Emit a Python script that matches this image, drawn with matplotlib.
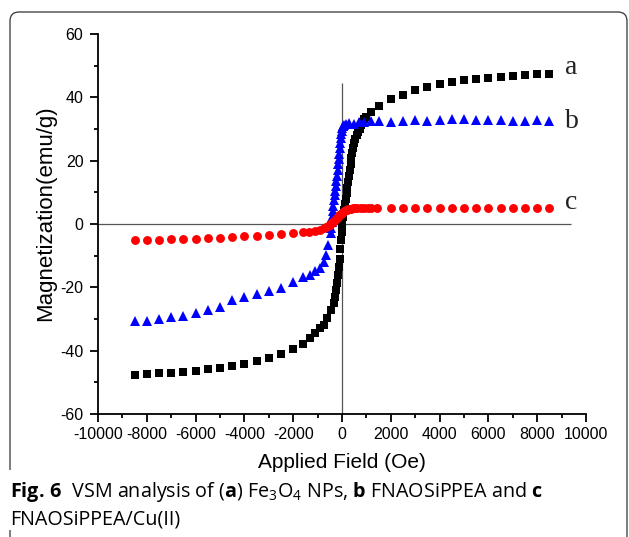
import matplotlib
matplotlib.use('Agg')
import matplotlib.pyplot as plt
from matplotlib.patches import FancyBboxPatch, Rectangle
from matplotlib.transforms import IdentityTransform
from matplotlib.ticker import MultipleLocator

plt.rcParams['font.family'] = ['Liberation Sans', 'DejaVu Sans']
plt.rcParams['axes.unicode_minus'] = False
plt.rcParams['mathtext.fontset'] = 'custom'
plt.rcParams['mathtext.rm'] = 'Open Sans'
plt.rcParams['mathtext.it'] = 'Open Sans:italic'
plt.rcParams['mathtext.bf'] = 'Open Sans:bold'

# (a) Fe3O4 NPs
field_a = [-8500, -8000, -7500, -7000, -6500, -6000, -5500, -5000, -4500, -4000,
           -3500, -3000, -2500, -2000, -1600, -1300, -1100, -900, -750, -600,
           -470, -330, -290, -250, -210, -170, -135, -100, -70, -40, -10, 20, 50,
           80, 115, 150, 185, 220, 255, 290, 320, 350, 385, 420, 460, 500, 550,
           600, 660, 720, 790, 850, 920, 1000, 1180, 1500, 2000, 2500, 3000,
           3500, 4000, 4500, 5000, 5500, 6000, 6500, 7000, 7500, 8000, 8500]
mag_a = [-47.7, -47.4, -47.2, -46.9, -46.7, -46.3, -45.8, -45.4, -44.8, -44.2,
         -43.3, -42.4, -41.2, -39.6, -37.9, -36.1, -34.3, -33.0, -31.8, -29.8,
         -27.3, -25.0, -23.0, -21.0, -18.5, -16.0, -13.5, -11.0, -8.0, -5.0, -2.5, 0.0, 2.2,
         4.5, 6.3, 8.0, 9.8, 11.5, 13.2, 15.0, 17.0, 19.0, 20.8, 22.5, 24.0, 25.5, 26.8,
         28.0, 29.0, 30.0, 31.2, 32.2, 33.0, 33.8, 35.4, 37.4, 39.4, 40.8, 42.4,
         43.4, 44.2, 44.9, 45.4, 45.7, 46.1, 46.5, 46.8, 47.0, 47.3, 47.5]

# (b) FNAOSiPPEA
field_b = [-8500, -8000, -7500, -7000, -6500, -6000, -5500, -5000, -4500, -4000,
           -3500, -3000, -2500, -2000, -1600, -1300, -1100, -900, -750, -650,
           -560, -470, -450, -430, -405, -380, -355, -330, -305, -280, -255, -230,
           -205, -180, -155, -130, -110, -90, -70, -55, -35, -20, 0, 30, 60, 100,
           170, 300, 490, 700, 900, 1180, 1500, 2000, 2500, 3000, 3500,
           4000, 4500, 5000, 5500, 6000, 6500, 7000, 7500, 8000, 8500]
mag_b = [-30.5, -30.6, -30.0, -29.5, -28.9, -28.2, -27.3, -26.3, -24.0, -22.9,
         -22.2, -21.2, -20.3, -18.2, -16.8, -16.1, -14.8, -14.0, -12.0, -9.8,
         -6.6, -2.9, -1.2, 0.5, 2.2, 4.0, 5.8, 7.5, 9.0, 10.5, 12.0, 13.5,
         15.2, 17.0, 18.8, 20.5, 22.2, 24.0, 25.5, 27.0, 28.3, 29.5, 30.2, 30.8, 31.0, 31.3,
         31.6, 31.8, 31.6, 32.2, 32.3, 32.6, 32.6, 32.3, 32.6, 32.8, 32.6,
         32.8, 33.0, 33.1, 32.9, 32.8, 32.7, 32.6, 32.6, 32.7, 32.4]

# (c) FNAOSiPPEA/Cu(II)
field_c = [-8500, -8000, -7500, -7000, -6500, -6000, -5500, -5000, -4500, -4000,
           -3500, -3000, -2500, -2000, -1600, -1350, -1100, -900, -750, -650,
           -570, -500, -440, -380, -320, -260, -210, -160, -105, -55, 0, 50, 100,
           150, 200, 250, 310, 370, 450, 530, 620, 760, 900, 1050, 1190, 1440,
           2000, 2500, 3000, 3500, 4000, 4500, 5000, 5500, 6000, 6500, 7000,
           7500, 8000, 8500]
mag_c = [-5.05, -5.0, -4.9, -4.85, -4.75, -4.6, -4.5, -4.3, -4.0, -3.85,
         -3.75, -3.5, -3.3, -2.95, -2.65, -2.45, -2.2, -1.8, -1.3, -0.8,
         -0.5, -0.3, 0.2, 0.6, 1.1, 1.5, 1.9, 2.3, 2.7, 3.1, 3.5, 3.9, 4.2,
         4.4, 4.5, 4.6, 4.7, 4.8, 4.9, 4.95, 5.0, 5.05, 5.1, 5.1, 5.1, 5.2,
         5.2, 5.1, 5.2, 5.2, 5.1, 5.2, 5.2, 5.2, 5.1, 5.2, 5.2,
         5.1, 5.2, 5.2]

curve_labels = ['a', 'b', 'c']
label_y = [47.4, 30.3, 4.7]

W, H = 629, 537
fig = plt.figure(figsize=(W / 100, H / 100), dpi=100)
fig.patch.set_facecolor('white')

# outer rounded frame
frame = FancyBboxPatch((10, -30), 617, 30 + H - 12,
                       boxstyle='round,pad=0,rounding_size=9',
                       transform=IdentityTransform(), facecolor='none',
                       edgecolor='#333333', linewidth=0.9, zorder=0)
fig.add_artist(frame)
fig.add_artist(Rectangle((4, H - 530), 14, 60, transform=IdentityTransform(),
                         facecolor='white', edgecolor='none', zorder=1))

ax = fig.add_axes([98 / W, 1 - 414 / H, 488 / W, 380 / H])
ax.set_facecolor('none')

ax.hlines(0, -10000, 9400, color='#555555', lw=0.9, zorder=1)
ax.vlines(0, -60, 44.5, color='#555555', lw=0.9, zorder=1)

ax.plot(field_a, mag_a, 's', color='black', ms=5.8, mew=0, zorder=2)
ax.plot(field_b, mag_b, '^', color='#0000ff', ms=7.0, mew=0, zorder=3)
ax.plot(field_c, mag_c, 'o', color='#ff0000', ms=6.4, mew=0, zorder=4)

for lab, yv in zip(curve_labels, label_y):
    ax.text(9150, yv, lab, family='Liberation Serif', fontsize=20,
            va='baseline', ha='left', color='#222222')

ax.set_xlim(-10000, 10000)
ax.set_ylim(-60, 60)
ax.xaxis.set_major_locator(MultipleLocator(2000))
ax.xaxis.set_minor_locator(MultipleLocator(1000))
ax.yaxis.set_major_locator(MultipleLocator(20))
ax.yaxis.set_minor_locator(MultipleLocator(10))
for s in ['top', 'right']:
    ax.spines[s].set_visible(False)
for s in ['left', 'bottom']:
    ax.spines[s].set_linewidth(1.3)
ax.tick_params(which='major', direction='out', length=6, width=1.3, labelsize=11.5)
ax.tick_params(which='minor', direction='out', length=3, width=1.3)
ax.tick_params(axis='x', pad=3.5)
ax.tick_params(axis='y', pad=4.5)

fig.text(342 / W, 1 - 462 / H, 'Applied Field (Oe)', ha='center', va='center',
         fontsize=15)
fig.text(46 / W, 1 - 213 / H, 'Magnetization(emu/g)', ha='center', va='center',
         rotation=90, fontsize=16)

fig.text(10 / W, 1 - 497 / H,
         r'$\mathbf{Fig.\,6}$  VSM analysis of ($\mathbf{a}$) Fe$_3$O$_4$ NPs, '
         r'$\mathbf{b}$ FNAOSiPPEA and $\mathbf{c}$',
         family='Open Sans', fontsize=14.2, va='baseline', ha='left', zorder=5)
fig.text(10 / W, 1 - 525 / H, 'FNAOSiPPEA/Cu(II)', family='Open Sans',
         fontsize=14.2, va='baseline', ha='left', zorder=5)

fig.savefig('out.png', dpi=100, facecolor='white')
